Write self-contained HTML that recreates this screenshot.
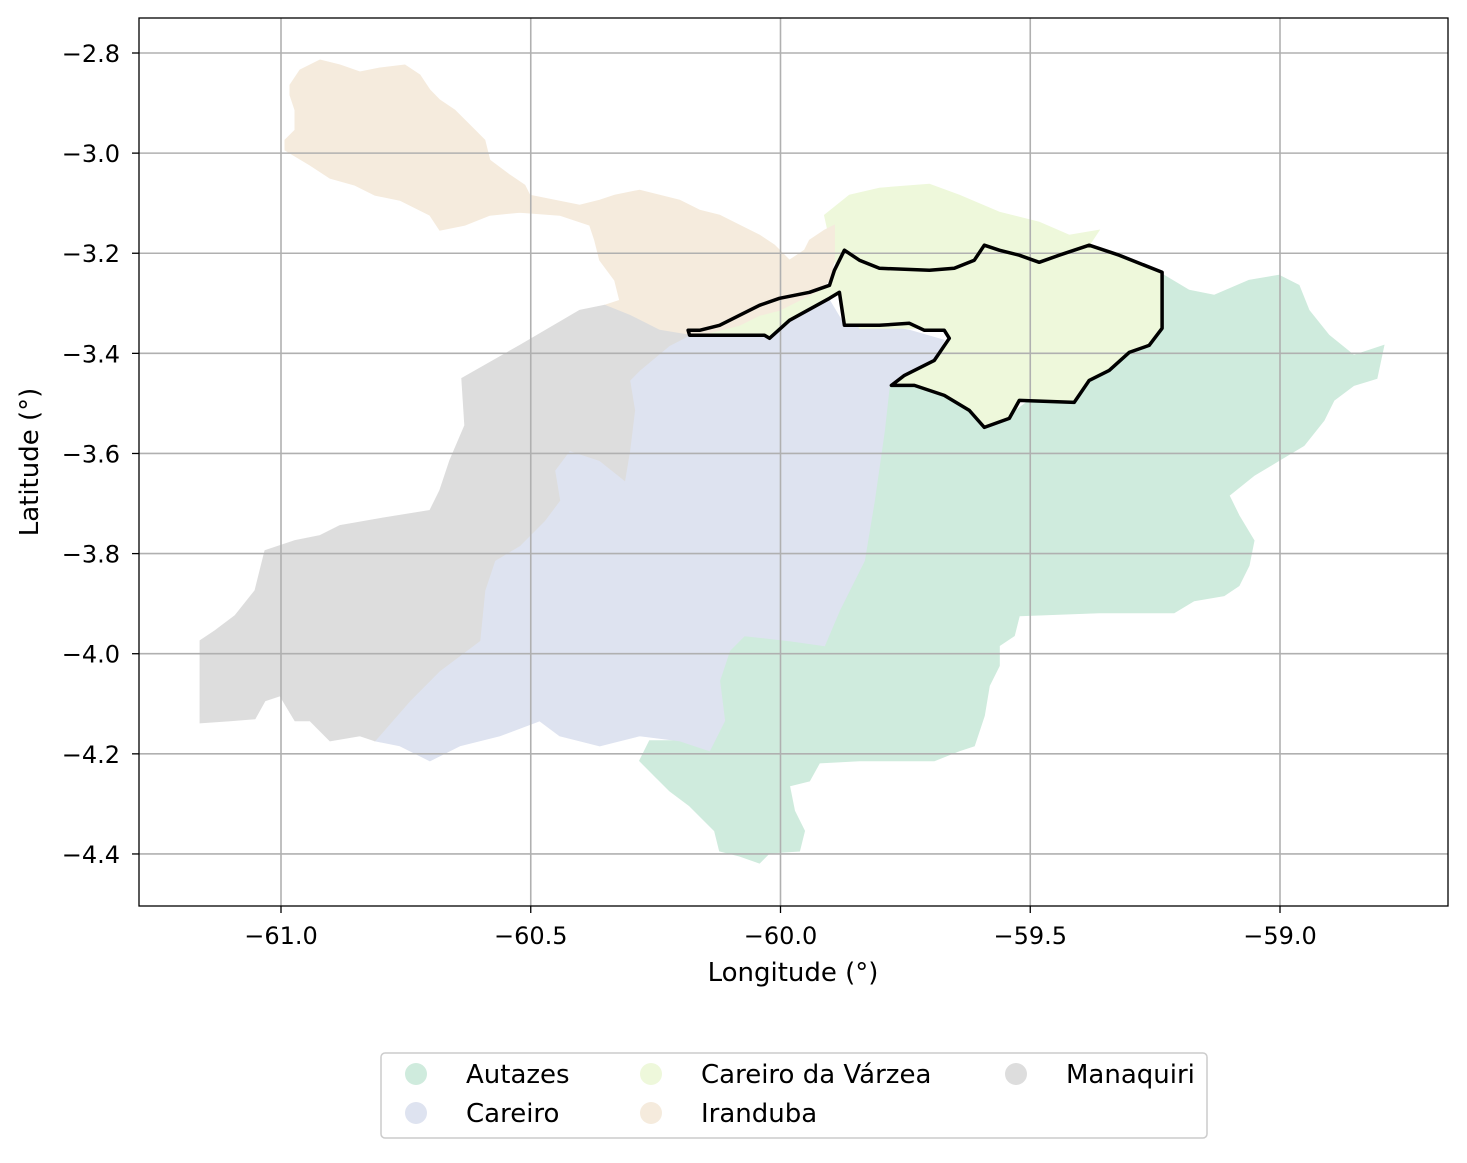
<!DOCTYPE html>
<html><head><meta charset="utf-8"><style>
body{margin:0;background:#fff;}
svg text{font-family:"DejaVu Sans","Liberation Sans",sans-serif;fill:#000;}
</style></head><body>
<svg id="chart" width="1467" height="1158" viewBox="0 0 1467 1158" xmlns="http://www.w3.org/2000/svg"></svg>
<script>
const xTicks=[-61.0,-60.5,-60.0,-59.5,-59.0];
const xTickLabels=["\u221261.0","\u221260.5","\u221260.0","\u221259.5","\u221259.0"];
const yTicks=[-2.8,-3.0,-3.2,-3.4,-3.6,-3.8,-4.0,-4.2,-4.4];
const yTickLabels=["\u22122.8","\u22123.0","\u22123.2","\u22123.4","\u22123.6","\u22123.8","\u22124.0","\u22124.2","\u22124.4"];
const regionNames=["Autazes","Careiro","Careiro da V\u00e1rzea","Iranduba","Manaquiri"];
const regionColors=["#cfebdd","#dee3f0","#eef8db","#f5ebdd","#dddddd"];
const careiroShared=[[-60.182,-3.364],[-60.222,-3.384],[-60.282,-3.434],[-60.302,-3.454],[-60.292,-3.514],[-60.302,-3.594],[-60.312,-3.654],[-60.362,-3.614],[-60.422,-3.594],[-60.452,-3.634],[-60.442,-3.694],[-60.472,-3.734],[-60.522,-3.784],[-60.572,-3.814],[-60.592,-3.874],[-60.602,-3.974],[-60.682,-4.034],[-60.742,-4.094],[-60.812,-4.174]];
const autazes=[[-59.782,-3.464],[-59.732,-3.464],[-59.672,-3.484],[-59.622,-3.514],[-59.592,-3.544],[-59.542,-3.524],[-59.502,-3.494],[-59.412,-3.494],[-59.382,-3.454],[-59.342,-3.434],[-59.302,-3.394],[-59.242,-3.364],[-59.232,-3.244],[-59.182,-3.274],[-59.132,-3.284],[-59.062,-3.254],[-59.002,-3.244],[-58.962,-3.264],[-58.942,-3.314],[-58.902,-3.364],[-58.852,-3.404],[-58.792,-3.384],[-58.806,-3.450],[-58.852,-3.464],[-58.892,-3.494],[-58.912,-3.534],[-58.952,-3.584],[-59.002,-3.614],[-59.052,-3.644],[-59.102,-3.684],[-59.082,-3.724],[-59.052,-3.774],[-59.062,-3.824],[-59.082,-3.864],[-59.112,-3.884],[-59.172,-3.894],[-59.212,-3.918],[-59.362,-3.918],[-59.522,-3.924],[-59.532,-3.964],[-59.562,-3.984],[-59.562,-4.024],[-59.582,-4.064],[-59.592,-4.124],[-59.612,-4.184],[-59.642,-4.194],[-59.692,-4.214],[-59.842,-4.214],[-59.922,-4.218],[-59.942,-4.254],[-59.982,-4.264],[-59.972,-4.314],[-59.952,-4.354],[-59.962,-4.394],[-60.022,-4.398],[-60.042,-4.418],[-60.082,-4.404],[-60.122,-4.394],[-60.132,-4.354],[-60.182,-4.304],[-60.222,-4.274],[-60.252,-4.244],[-60.282,-4.214],[-60.262,-4.174],[-60.202,-4.174],[-60.142,-4.194],[-60.112,-4.134],[-60.122,-4.054],[-60.102,-3.994],[-60.072,-3.964],[-59.982,-3.974],[-59.912,-3.984],[-59.882,-3.914],[-59.852,-3.854],[-59.832,-3.814],[-59.812,-3.694],[-59.792,-3.554]];
const careiro=[[-60.182,-3.364],[-60.032,-3.364],[-59.982,-3.334],[-59.902,-3.294],[-59.872,-3.344],[-59.802,-3.344],[-59.742,-3.354],[-59.672,-3.374],[-59.692,-3.414],[-59.752,-3.444],[-59.782,-3.464],[-59.792,-3.554],[-59.812,-3.694],[-59.832,-3.814],[-59.852,-3.854],[-59.882,-3.914],[-59.912,-3.984],[-59.982,-3.974],[-60.072,-3.964],[-60.102,-3.994],[-60.122,-4.054],[-60.112,-4.134],[-60.142,-4.194],[-60.202,-4.174],[-60.282,-4.164],[-60.362,-4.184],[-60.442,-4.164],[-60.482,-4.134],[-60.562,-4.164],[-60.642,-4.184],[-60.702,-4.214],[-60.762,-4.184]].concat(careiroShared.slice().reverse());
const varzeaTop=[[-59.892,-3.214],[-59.912,-3.124],[-59.862,-3.084],[-59.802,-3.070],[-59.702,-3.062],[-59.642,-3.084],[-59.562,-3.118],[-59.482,-3.138],[-59.422,-3.164],[-59.362,-3.154],[-59.382,-3.184],[-59.322,-3.204],[-59.236,-3.238],[-59.236,-3.350],[-59.842,-3.350]];
const varzeaOutline=[[-60.185,-3.354],[-60.182,-3.364],[-60.032,-3.364],[-60.022,-3.370],[-59.982,-3.334],[-59.902,-3.290],[-59.882,-3.278],[-59.872,-3.344],[-59.802,-3.344],[-59.742,-3.340],[-59.712,-3.354],[-59.672,-3.354],[-59.662,-3.370],[-59.692,-3.414],[-59.752,-3.444],[-59.778,-3.464],[-59.732,-3.464],[-59.672,-3.484],[-59.622,-3.514],[-59.592,-3.548],[-59.542,-3.530],[-59.522,-3.494],[-59.412,-3.498],[-59.382,-3.454],[-59.342,-3.434],[-59.302,-3.398],[-59.262,-3.384],[-59.236,-3.350],[-59.236,-3.238],[-59.322,-3.204],[-59.382,-3.184],[-59.442,-3.204],[-59.482,-3.218],[-59.522,-3.204],[-59.562,-3.194],[-59.592,-3.184],[-59.612,-3.214],[-59.652,-3.230],[-59.702,-3.234],[-59.802,-3.230],[-59.842,-3.214],[-59.872,-3.194],[-59.892,-3.234],[-59.902,-3.264],[-59.942,-3.278],[-60.002,-3.290],[-60.042,-3.304],[-60.082,-3.324],[-60.122,-3.344],[-60.162,-3.354]];
const iranduba=[[-60.982,-2.864],[-60.962,-2.834],[-60.922,-2.814],[-60.882,-2.824],[-60.842,-2.838],[-60.802,-2.830],[-60.752,-2.824],[-60.722,-2.844],[-60.702,-2.874],[-60.682,-2.894],[-60.652,-2.914],[-60.622,-2.944],[-60.592,-2.974],[-60.582,-3.014],[-60.542,-3.044],[-60.512,-3.064],[-60.502,-3.084],[-60.452,-3.094],[-60.402,-3.104],[-60.362,-3.094],[-60.332,-3.084],[-60.282,-3.074],[-60.242,-3.084],[-60.202,-3.094],[-60.162,-3.114],[-60.122,-3.124],[-60.082,-3.144],[-60.042,-3.164],[-60.012,-3.184],[-59.982,-3.214],[-59.952,-3.194],[-59.942,-3.174],[-59.912,-3.154],[-59.892,-3.144],[-59.892,-3.214],[-59.902,-3.254],[-59.922,-3.274],[-59.962,-3.294],[-60.002,-3.314],[-60.042,-3.324],[-60.082,-3.344],[-60.122,-3.354],[-60.162,-3.364],[-60.182,-3.364],[-60.242,-3.354],[-60.302,-3.324],[-60.352,-3.304],[-60.322,-3.294],[-60.332,-3.254],[-60.362,-3.214],[-60.372,-3.174],[-60.382,-3.144],[-60.442,-3.124],[-60.522,-3.118],[-60.582,-3.124],[-60.632,-3.144],[-60.682,-3.154],[-60.702,-3.124],[-60.762,-3.094],[-60.812,-3.084],[-60.852,-3.064],[-60.902,-3.050],[-60.942,-3.024],[-60.992,-2.994],[-60.992,-2.974],[-60.972,-2.954],[-60.972,-2.914],[-60.982,-2.884]];
const manaquiri=[[-61.162,-3.974],[-61.132,-3.954],[-61.092,-3.924],[-61.052,-3.874],[-61.032,-3.794],[-60.972,-3.774],[-60.922,-3.764],[-60.882,-3.744],[-60.802,-3.730],[-60.702,-3.714],[-60.682,-3.674],[-60.662,-3.614],[-60.632,-3.544],[-60.638,-3.450],[-60.522,-3.384],[-60.402,-3.314],[-60.352,-3.304],[-60.302,-3.324],[-60.242,-3.354]].concat(careiroShared).concat([[-60.842,-4.164],[-60.902,-4.174],[-60.942,-4.134],[-60.972,-4.134],[-61.002,-4.084],[-61.032,-4.094],[-61.052,-4.130],[-61.102,-4.134],[-61.162,-4.138]]);

const svg=document.getElementById('chart');
const NS='http://www.w3.org/2000/svg';
const L=139,R=1448,T=18,B=906;
function X(v){return 281+(v+61)*499.5;}
function Y(v){return 53+(-2.8-v)*500.6;}
function mk(tag,attrs,parent){const e=document.createElementNS(NS,tag);for(const k in attrs)e.setAttribute(k,attrs[k]);(parent||svg).appendChild(e);return e;}
function pts(a){return a.map(p=>X(p[0]).toFixed(1)+','+Y(p[1]).toFixed(1)).join(' ');}

const clip=mk('clipPath',{id:'pc'});mk('rect',{x:L,y:T,width:R-L,height:B-T},clip);
const g=mk('g',{'clip-path':'url(#pc)'});
const polys=[[autazes,0,'region-autazes'],[careiro,1,'region-careiro'],[varzeaTop,2,'region-careiro-da-varzea-north'],[varzeaOutline,2,'region-careiro-da-varzea'],[iranduba,3,'region-iranduba'],[manaquiri,4,'region-manaquiri']];
polys.forEach(p=>{
  const e=mk('polygon',{points:pts(p[0]),fill:regionColors[p[1]],stroke:regionColors[p[1]],'stroke-width':1},g);
  
  
});
xTicks.forEach((t,i)=>{
  const l=mk('line',{x1:X(t),x2:X(t),y1:T,y2:B,stroke:'#b0b0b0','stroke-width':1.6});
  
  
  mk('line',{x1:X(t),x2:X(t),y1:B,y2:B+7,stroke:'#000','stroke-width':1.3});
  const tx=mk('text',{x:X(t),y:B+38,'text-anchor':'middle','font-size':'24'});tx.textContent=xTickLabels[i];
  
  
});
yTicks.forEach((t,i)=>{
  const l=mk('line',{x1:L,x2:R,y1:Y(t),y2:Y(t),stroke:'#b0b0b0','stroke-width':1.6});
  
  
  mk('line',{x1:L-7,x2:L,y1:Y(t),y2:Y(t),stroke:'#000','stroke-width':1.3});
  const tx=mk('text',{x:L-19,y:Y(t)+9,'text-anchor':'end','font-size':'24'});tx.textContent=yTickLabels[i];
  
  
});
const ol=mk('polygon',{points:pts(varzeaOutline),fill:'none',stroke:'#000','stroke-width':3.5,'stroke-linejoin':'round'});


const fr=mk('rect',{x:L,y:T,width:R-L,height:B-T,fill:'none',stroke:'#000','stroke-width':1.3});


const xl=mk('text',{x:793,y:981,'text-anchor':'middle','font-size':'26'});xl.textContent='Longitude (\u00b0)';


const yl=mk('text',{x:38,y:462,'text-anchor':'middle','font-size':'26',transform:'rotate(-90 38 462)'});yl.textContent='Latitude (\u00b0)';


const lg=mk('g',{});


mk('rect',{x:381,y:1053,width:826,height:85,rx:4,fill:'#fff',stroke:'#ccc','stroke-width':1.5},lg);
const legendPos=[[416,1074],[416,1113],[651,1074],[651,1113],[1016,1074]];
[0,1,2,3,4].forEach(i=>{
  const e=mk('g',{},lg);
  
  
  mk('circle',{cx:legendPos[i][0],cy:legendPos[i][1],r:11,fill:regionColors[i]},e);
  const t=mk('text',{x:legendPos[i][0]+50,y:legendPos[i][1]+9,'font-size':'26'},e);t.textContent=regionNames[i];
});
</script>
</body></html>
